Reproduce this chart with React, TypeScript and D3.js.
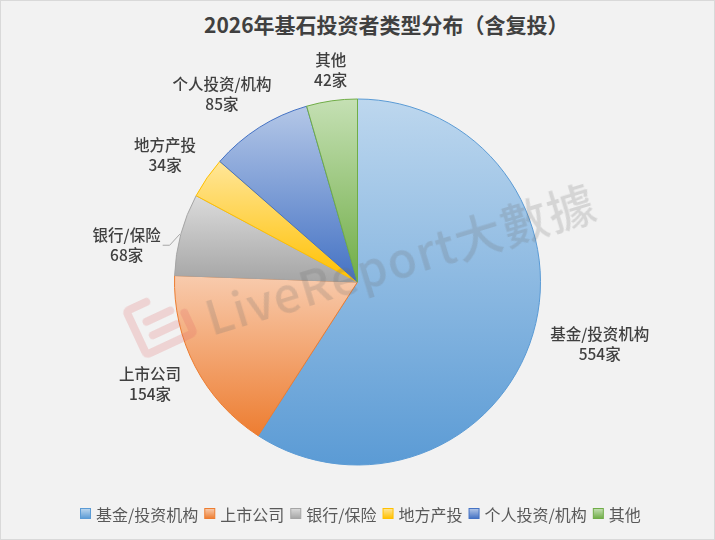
import * as d3 from 'd3';
import {useMemo} from 'react';

const WIDTH = 715;
const HEIGHT = 540;

const TITLE = '2026年基石投资者类型分布（含复投）';
const categories = ['基金/投资机构', '上市公司', '银行/保险', '地方产投', '个人投资/机构', '其他'];
const counts = [554, 154, 68, 34, 85, 42];
const UNIT = '家';

// light tint at the top, base colour at the bottom (Excel style gradient)
const topColors = ['#bdd7ee', '#f8cbad', '#dbdbdb', '#ffe699', '#b4c7e7', '#c5e0b4'];
const baseColors = ['#5b9bd5', '#ed7d31', '#a5a5a5', '#ffc000', '#4472c4', '#70ad47'];

// labels Excel pushed away from their best-fit spot
const LABEL_NUDGE: Record<string, [number, number]> = {
  '银行/保险': [-2, 21],
  '其他': [4, 8],
};

const FONT = '"Noto Sans CJK SC", "Microsoft YaHei", sans-serif';

let ctx: CanvasRenderingContext2D | null = null;
function textWidth(text: string, size: number, weight = 'normal') {
  if (!ctx) ctx = document.createElement('canvas').getContext('2d');
  if (!ctx) return text.length * size;
  ctx.font = `${weight} ${size}px ${FONT}`;
  return ctx.measureText(text).width;
}

type Slice = d3.PieArcDatum<number>;

export default function App() {
  const cx = 357.5;
  const cy = 282;
  const radius = 183;
  const labelSize = 15.5;
  const lineGap = 10;

  const arcs = useMemo(() => d3.pie<number>().sort(null).value((d) => d)(counts), []);
  const arcGen = useMemo(() => d3.arc<Slice>().innerRadius(0).outerRadius(radius), []);

  const labels = arcs.map((a, i) => {
    const mid = (a.startAngle + a.endAngle) / 2;
    const sin = Math.sin(mid);
    const cos = -Math.cos(mid);
    const l1 = categories[i];
    const l2 = `${counts[i]}${UNIT}`;
    const w = Math.max(textWidth(l1, labelSize, '500'), textWidth(l2, labelSize, '500'));
    const h = 38;
    const ax = cx + (radius + 20) * sin;
    const ay = cy + (radius + 20) * cos;
    const [nx, ny] = LABEL_NUDGE[l1] ?? [0, 0];
    const x = ax + (w / 2) * sin + nx;
    const y = ay + (h / 2) * cos + ny;
    let leader: [number, number][] | null = null;
    if (Math.hypot(nx, ny) > 15) {
      const ex = cx + (radius + 1) * sin;
      const ey = cy + (radius + 1) * cos;
      const side = sin < 0 ? 1 : -1;
      const edge = x + side * (w / 2);
      leader = [
        [ex, ey],
        [edge + side * 9, y],
        [edge + side * 2, y],
      ];
    }
    return {x, y, l1, l2, leader};
  });

  // legend layout
  const legendSize = 16;
  let lx = 80;
  const legend = categories.map((c, i) => {
    const w = textWidth(c, legendSize);
    const item = {x: lx, c, i};
    lx += 11 + 5 + w + 6;
    return item;
  });

  return (
    <svg
      width={WIDTH}
      height={HEIGHT}
      viewBox={`0 0 ${WIDTH} ${HEIGHT}`}
      style={{position: 'absolute', left: 0, top: 0}}
      fontFamily={FONT}
    >
      <defs>
        {baseColors.map((c, i) => (
          <linearGradient key={i} id={`g${i}`} x1="0" y1="0" x2="0" y2="1">
            <stop offset="0%" stopColor={topColors[i]} />
            <stop offset="100%" stopColor={c} />
          </linearGradient>
        ))}
      </defs>
      <rect x={0.5} y={0.5} width={WIDTH - 1} height={HEIGHT - 1} fill="#f2f2f2" stroke="#d9d9d9" />

      <text x={204} y={24} dominantBaseline="central" fontSize={21} fontWeight="bold" fill="#404040">
        {TITLE}
      </text>

      <g transform={`translate(${cx},${cy})`}>
        {arcs.map((a, i) => (
          <path key={i} d={arcGen(a)!} fill={`url(#g${i})`} stroke={baseColors[i]} strokeWidth={1} strokeLinejoin="round" />
        ))}
      </g>

      {/* watermark */}
      <g opacity={0.22}>
        <g transform="translate(160,322) rotate(-25)" fill="none" stroke="#e06666" strokeWidth={8} strokeLinecap="round" strokeLinejoin="round">
          <path d="M -4,-24 L -22,-24 Q -26,-24 -26,-20 L -26,20 Q -26,24 -22,24 L 22,24 Q 26,24 26,20 L 26,2" />
          <line x1={-12} y1={-6} x2={14} y2={-6} />
          <line x1={-12} y1={9} x2={14} y2={9} />
        </g>
        <text
          x={212}
          y={336}
          transform="rotate(-17 212 336)"
          fontSize={47}
          fontWeight={500}
          letterSpacing={1.5}
          fill="#6f6f6f"
        >
          LiveReport大數據
        </text>
      </g>

      {labels.map((l, i) => (
        <g key={i} fontSize={labelSize} fontWeight={500} fill="#404040" textAnchor="middle">
          {l.leader && (
            <polyline points={l.leader.map((p) => p.join(',')).join(' ')} fill="none" stroke="#a6a6a6" strokeWidth={1} />
          )}
          <text x={l.x} y={l.y - lineGap + 5.5}>{l.l1}</text>
          <text x={l.x} y={l.y + lineGap + 5.5}>{l.l2}</text>
        </g>
      ))}

      {legend.map((it) => (
        <g key={it.i}>
          <rect x={it.x + 0.5} y={508.5} width={10} height={10} fill={`url(#g${it.i})`} stroke={baseColors[it.i]} />
          <text x={it.x + 16} y={514} dominantBaseline="central" fontSize={legendSize} fill="#595959">
            {it.c}
          </text>
        </g>
      ))}
    </svg>
  );
}
